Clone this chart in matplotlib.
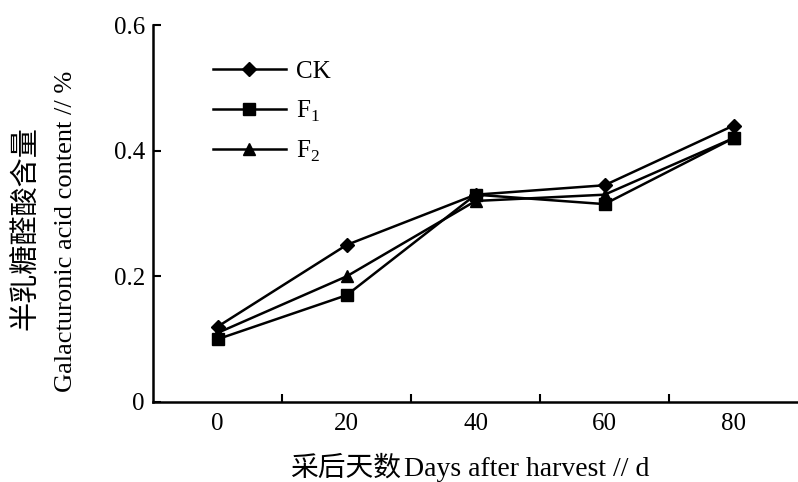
import matplotlib
matplotlib.use("Agg")
import matplotlib.pyplot as plt

plt.rcParams['font.family'] = ['Liberation Serif', 'Noto Sans CJK SC', 'DejaVu Sans']
plt.rcParams['mathtext.fontset'] = 'custom'
plt.rcParams['mathtext.rm'] = 'Liberation Serif'

days = [0, 20, 40, 60, 80]
ck = [0.12, 0.25, 0.33, 0.345, 0.44]
f1 = [0.10, 0.17, 0.33, 0.315, 0.42]
f2 = [0.11, 0.20, 0.32, 0.33, 0.42]

y_ticks = [0, 0.2, 0.4, 0.6]
y_labels = ['0', '0.2', '0.4', '0.6']

fig = plt.figure(figsize=(7.98, 4.82), dpi=100)
ax = fig.add_axes([0.192, 0.166, 0.808, 0.782])

ax.plot(days, ck, color='black', lw=1.8, marker='D', ms=7, label='CK')
ax.plot(days, f1, color='black', lw=1.8, marker='s', ms=9, label='F$_1$')
ax.plot(days, f2, color='black', lw=1.8, marker='^', ms=9, label='F$_2$')

ax.set_xlim(-10, 90)
ax.set_ylim(0, 0.6)

ax.spines['top'].set_visible(False)
ax.spines['right'].set_visible(False)
ax.spines['left'].set_linewidth(1.8)
ax.spines['bottom'].set_linewidth(1.8)

ax.set_xticks(days)
ax.set_xticks([10, 30, 50, 70], minor=True)
ax.tick_params(axis='x', which='major', length=0, pad=8, labelsize=18)
ax.tick_params(axis='x', which='minor', direction='in', length=6, width=1.5)
ax.set_yticks(y_ticks)
ax.set_yticklabels(y_labels)
ax.tick_params(axis='y', direction='in', length=6, width=1.5, labelsize=18, pad=6)

# axis titles: chinese and english parts sized separately
fig.text(0.503, 0.0125, '采后天数', fontsize=20, ha='right', va='baseline')
fig.text(0.506, 0.0125, 'Days after harvest // d', fontsize=20, ha='left', va='baseline')
fig.text(0.034, 0.527, '半乳糖醛酸含量', fontsize=21, rotation=90, ha='center', va='center')
fig.text(0.083, 0.519, 'Galacturonic acid content // %', fontsize=19, rotation=90,
         ha='center', va='center')

ax.legend(loc='upper left', bbox_to_anchor=(0.058, 0.966), frameon=False,
          fontsize=18, handlelength=2.9, labelspacing=0.62, handletextpad=0.4)

fig.savefig('out.png', dpi=100)
